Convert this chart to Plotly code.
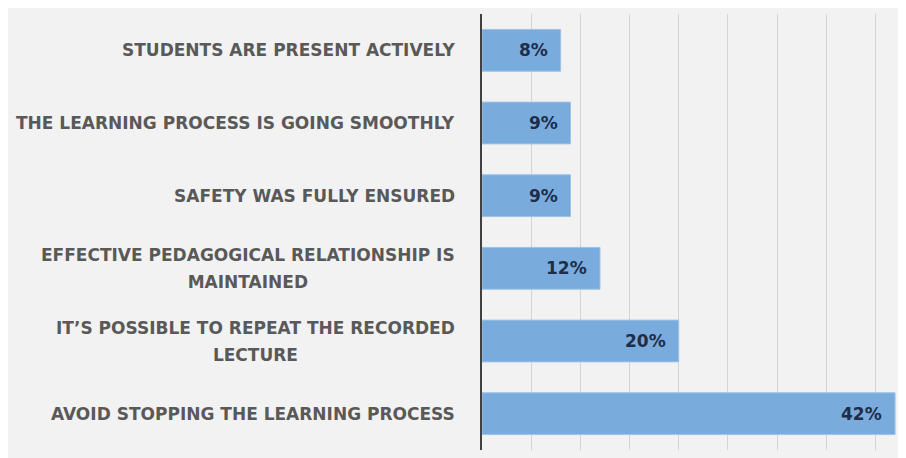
import plotly.graph_objects as go

# categories, top to bottom as drawn (multi-line labels split with <br>)
categories = [
    "STUDENTS ARE PRESENT ACTIVELY",
    "THE LEARNING PROCESS IS GOING SMOOTHLY",
    "SAFETY WAS FULLY ENSURED",
    "EFFECTIVE PEDAGOGICAL RELATIONSHIP IS<br>MAINTAINED",
    "IT\u2019S POSSIBLE TO REPEAT THE RECORDED<br>LECTURE",
    "AVOID STOPPING THE LEARNING PROCESS",
]
values = [8, 9, 9, 12, 20, 42]
value_labels = ["8%", "9%", "9%", "12%", "20%", "42%"]

BG = "#f2f2f2"
BAR = "#79acdc"
LABEL_GRAY = "#595959"
NAVY = "#1f2d4a"
FONT = "DejaVu Sans"
FSIZE = 17

fig = go.Figure()
fig.add_trace(go.Bar(
    x=values, y=categories, orientation="h",
    marker=dict(color=BAR, line=dict(color="#9cc3e8", width=1)),
    hoverinfo="skip", showlegend=False,
))

annotations = []
for cat, v, lab in zip(categories, values, value_labels):
    # larger annotation font only sets the line spacing; the text itself is 17px
    lines = ["<span style='font-size:%dpx'><b>%s</b></span>" % (FSIZE, ln)
             for ln in cat.split("<br>")]
    annotations.append(dict(
        x=0, y=cat, xref="paper", yref="y", text="<br>".join(lines),
        showarrow=False, xanchor="right", yanchor="middle", align="center",
        xshift=-25, font=dict(family=FONT, size=21, color=LABEL_GRAY),
    ))
    # value label inside the bar end
    annotations.append(dict(
        x=v, y=cat, xref="x", yref="y", text="<b>" + lab + "</b>",
        showarrow=False, xanchor="right", yanchor="middle",
        xshift=-11, font=dict(family=FONT, size=FSIZE, color=NAVY),
    ))

fig.update_layout(
    width=906, height=458,
    margin=dict(l=474, r=16, t=6, b=16),
    paper_bgcolor=BG, plot_bgcolor=BG,
    bargap=0.425,
    annotations=annotations,
    xaxis=dict(range=[0, 42.3], dtick=5, showticklabels=False, showgrid=True,
               gridcolor="#d4d4d4", gridwidth=1, zeroline=False, showline=False,
               fixedrange=True),
    yaxis=dict(autorange="reversed", showticklabels=False, showline=True,
               linecolor="#404040", linewidth=2, showgrid=False, ticks="",
               fixedrange=True),
)

fig.write_html("out.html")
